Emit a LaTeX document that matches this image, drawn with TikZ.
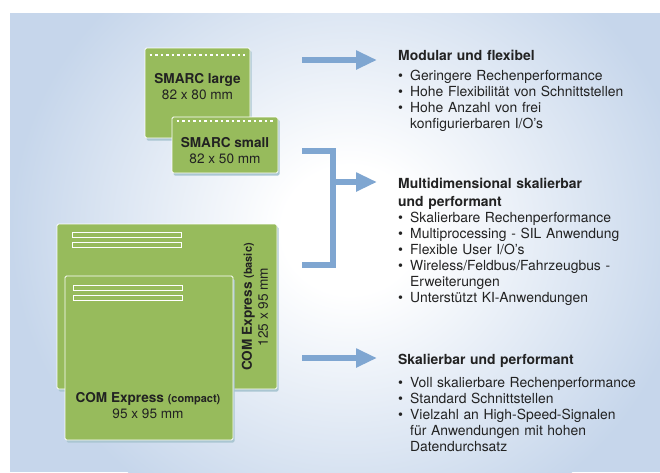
\documentclass[tikz,border=0pt]{standalone}
\usepackage{fontspec}
\setmainfont{TeX Gyre Heros}
\usetikzlibrary{arrows.meta,shadows}

\definecolor{bgblue}{RGB}{198,214,235}
\definecolor{boardgreen}{RGB}{151,187,92}
\definecolor{shadowgrey}{RGB}{170,198,210}
\definecolor{arrowblue}{RGB}{127,166,209}
\definecolor{textdark}{RGB}{34,34,34}

\pgfdeclareradialshading{glow}{\pgfpoint{0bp}{0bp}}{color(0bp)=(white); color(5bp)=(white); color(25bp)=(bgblue); color(50bp)=(bgblue)}

\newcommand\itm{\makebox[12pt][l]{\fontsize{14}{10}\selectfont\raisebox{0.2pt}{•}}}
\newcommand\cont{\hspace*{12pt}}

\begin{document}
\begin{tikzpicture}[x=1pt,y=-1pt,
                    board/.style={fill=boardgreen,draw=white,line width=0.8pt,rounded corners=1.5pt,
                      drop shadow={fill=shadowgrey,opacity=1,shadow xshift=1.5pt,shadow yshift=-2.5pt}},
                    slot/.style={draw=white,line width=0.8pt},
                    pins/.style={white,line width=2pt,dash pattern=on 2.5pt off 3pt},
                    boardlabel/.style={font=\bfseries\fontsize{13.6}{16}\selectfont,text=textdark,align=center,inner sep=0pt},
                    flowline/.style={draw=arrowblue,line width=6pt},
                    flowarrow/.style={flowline,-{Triangle[length=21pt,width=18pt]}},
                    infotext/.style={font=\fontsize{13.9}{16}\selectfont,text=textdark,align=left,
                      text width=258pt,inner sep=0pt,anchor=north west}]
  \useasboundingbox (0,0) rectangle (660,472);

  % background with glow
  \fill[bgblue] (10,13) rectangle (660,472);
  \begin{scope}
    \clip (10,13) rectangle (660,472);
    \shade[shading=glow] (350,230) ellipse [x radius=340pt,y radius=320pt];
  \end{scope}

  % SMARC boards
  \node[board,minimum width=105pt,minimum height=90pt,inner sep=0pt]  (smarcL) at (197.5,93) {};
  \draw[pins] ([shift={(5,7)}]smarcL.north west) -- ([shift={(-5,7)}]smarcL.north east);
  \node[board,minimum width=106pt,minimum height=56pt,inner sep=0pt]  (smarcS) at (225,145) {};
  \draw[pins] ([shift={(5,4)}]smarcS.north west) -- ([shift={(-5,4)}]smarcS.north east);
  \node[boardlabel] (smarcLtxt) at ([yshift=6pt]smarcL.center) {SMARC large\\\mdseries 82 x 80 mm};
  \node[boardlabel] (smarcStxt) at ([yshift=-5.5pt]smarcS.center) {SMARC small\\\mdseries 82 x 50 mm};

  % COM Express boards
  \node[board,minimum width=220pt,minimum height=165pt,inner sep=0pt] (comB) at (167,306.5) {};
  \foreach \dy in {9,19}
    \draw[slot] ([shift={(16,\dy)}]comB.north west) rectangle ++(109,5);
  \node[boardlabel,rotate=90] (comBtxt) at (255,307)
    {COM Express {\fontsize{11}{16}\selectfont(basic)}\\\mdseries 125 x 95 mm};
  \node[board,minimum width=168pt,minimum height=164pt,inner sep=0pt] (comC) at (149,358) {};
  \foreach \dy in {10,20}
    \draw[slot] ([shift={(9,\dy)}]comC.north west) rectangle ++(109,5);
  \node[boardlabel] (comCtxt) at (148,405.5)
    {COM Express {\fontsize{11}{16}\selectfont(compact)}\\\mdseries 95 x 95 mm};

  % connectors
  \coordinate (aStart) at (302,60);
  \coordinate (aEnd)   at (377,60);
  \coordinate (bTop)   at (302,151);
  \coordinate (bJoint) at (333,265);
  \coordinate (bBot)   at (302,265);
  \coordinate (bStart) at (333,182);
  \coordinate (bEnd)   at (377,182);
  \coordinate (cStart) at (302,358);
  \coordinate (cEnd)   at (377,358);
  \draw[flowarrow] (aStart) -- (aEnd);
  \draw[flowline,line join=miter] (bTop) -| (bJoint) -- (bBot);
  \draw[flowarrow] (bStart) -- (bEnd);
  \draw[flowarrow] (cStart) -- (cEnd);

  % descriptions
  \node[infotext] (txtA) at (398,50) {\textbf{Modular und flexibel}\\[4pt]
    \itm Geringere Rechenperformance\\
    \itm Hohe Flexibilität von Schnittstellen\\
    \itm Hohe Anzahl von frei\\
    \cont konfigurierbaren I/O's};
  \node[infotext] (txtB) at (398,178) {\textbf{Multidimensional skalierbar}\\[2pt]
    \textbf{und performant}\\
    \itm Skalierbare Rechenperformance\\
    \itm Multiprocessing - SIL Anwendung\\
    \itm Flexible User I/O's\\
    \itm Wireless/Feldbus/Fahrzeugbus -\\
    \cont Erweiterungen\\
    \itm Unterstützt KI-Anwendungen};
  \node[infotext] (txtC) at (398,354) {\textbf{Skalierbar und performant}\\[7pt]
    \itm Voll skalierbare Rechenperformance\\
    \itm Standard Schnittstellen\\
    \itm Vielzahl an High-Speed-Signalen\\
    \cont für Anwendungen mit hohen\\
    \cont Datendurchsatz};
\end{tikzpicture}
\end{document}
